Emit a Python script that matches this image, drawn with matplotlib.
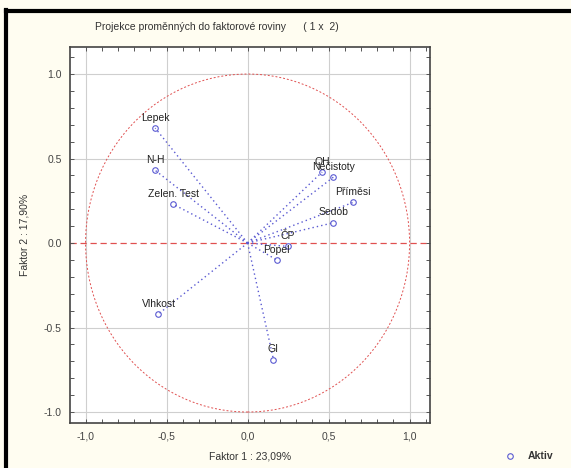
import numpy as np
import matplotlib
matplotlib.use('Agg')
import matplotlib.pyplot as plt
from matplotlib.patches import Circle
from matplotlib.lines import Line2D
from matplotlib.ticker import MultipleLocator

plt.rcParams['font.family'] = ['Liberation Sans', 'DejaVu Sans']

# loadings of the active variables on factors 1 and 2
names = ['Lepek', 'N-H', 'Zelen. Test', 'Vlhkost', 'GI', 'Popel', 'ČP',
         'Sedob', 'Příměsi', 'Nečistoty', 'OH']
f1 = [-0.57, -0.57, -0.46, -0.55, 0.16, 0.18, 0.25, 0.53, 0.65, 0.53, 0.46]
f2 = [0.68, 0.43, 0.23, -0.42, -0.69, -0.10, -0.02, 0.12, 0.24, 0.39, 0.42]

xticks = [-1.0, -0.5, 0.0, 0.5, 1.0]
yticks = [-1.0, -0.5, 0.0, 0.5, 1.0]

bg = '#fffdf1'
vec_col = '#5a5ad2'
red = '#e05050'

fig = plt.figure(figsize=(5.71, 4.68), dpi=100, facecolor=bg)
ax = fig.add_axes([70/571, 45/468, 360/571, 376/468])
ax.set_facecolor('white')

# grid
for t in xticks:
    ax.axvline(t, color='#cfcfcf', lw=0.8, zorder=0)
for t in yticks:
    if t != 0:
        ax.axhline(t, color='#cfcfcf', lw=0.8, zorder=0)
ax.axhline(0, color=red, lw=0.9, ls=(0, (5, 3)), zorder=1)

circ = Circle((0, 0), 1.0, fill=False, ec=red, lw=0.7, ls=(0, (2, 2)), zorder=1)
ax.add_patch(circ)

# vectors
for x, y in zip(f1, f2):
    ax.plot([0, x], [0, y], color=vec_col, lw=1.0, ls=(0, (1, 2.2)), zorder=2)
ax.plot(f1, f2, 'o', mfc='none', mec=vec_col, ms=4, mew=0.8, zorder=3)

for n, x, y in zip(names, f1, f2):
    ax.annotate(n, (x, y), xytext=(0, 7.5), textcoords='offset points',
                ha='center', va='center', fontsize=7.5, color='#222222', zorder=4)

ax.set_xlim(-1.096, 1.126)
ax.set_ylim(-1.065, 1.16)
ax.set_xticks(xticks)
ax.set_yticks(yticks)
ax.set_xticklabels(['-1,0', '-0,5', '0,0', '0,5', '1,0'])
ax.set_yticklabels(['-1.0', '-0.5', '0.0', '0.5', '1.0'])
ax.xaxis.set_minor_locator(MultipleLocator(0.1))
ax.yaxis.set_minor_locator(MultipleLocator(0.1))
ax.tick_params(which='both', direction='in', top=True, right=True,
               length=3, width=0.7, color='#555555',
               labelsize=7.5, labelcolor='#444444', pad=6)
for s in ax.spines.values():
    s.set_color('#444444')
    s.set_linewidth(1.2)

ax.set_xlabel('Faktor 1 : 23,09%', fontsize=7.5, color='#333333', labelpad=7)
ax.set_ylabel('Faktor 2 : 17,90%', fontsize=7.5, color='#333333', labelpad=10)

fig.text(217/571, 1 - 27/468, 'Projekce proměnných do faktorové roviny      ( 1 x  2)',
         ha='center', va='center', fontsize=7.5, color='#333333')

# legend
fig.add_artist(Line2D([510/571], [1 - 456/468], marker='o', mfc='none',
                      mec=vec_col, ms=4, mew=0.8, ls='none'))
fig.text(528/571, 1 - 456/468, 'Aktiv', ha='left', va='center',
         fontsize=7.5, color='#333333', fontweight='bold')

# window frame
fig.add_artist(Line2D([6/571, 6/571], [0, 1 - 10/468], color='black', lw=3))
fig.add_artist(Line2D([6/571, 1], [1 - 11/468, 1 - 11/468], color='black', lw=3))

fig.savefig('out.png', dpi=100, facecolor=bg)
